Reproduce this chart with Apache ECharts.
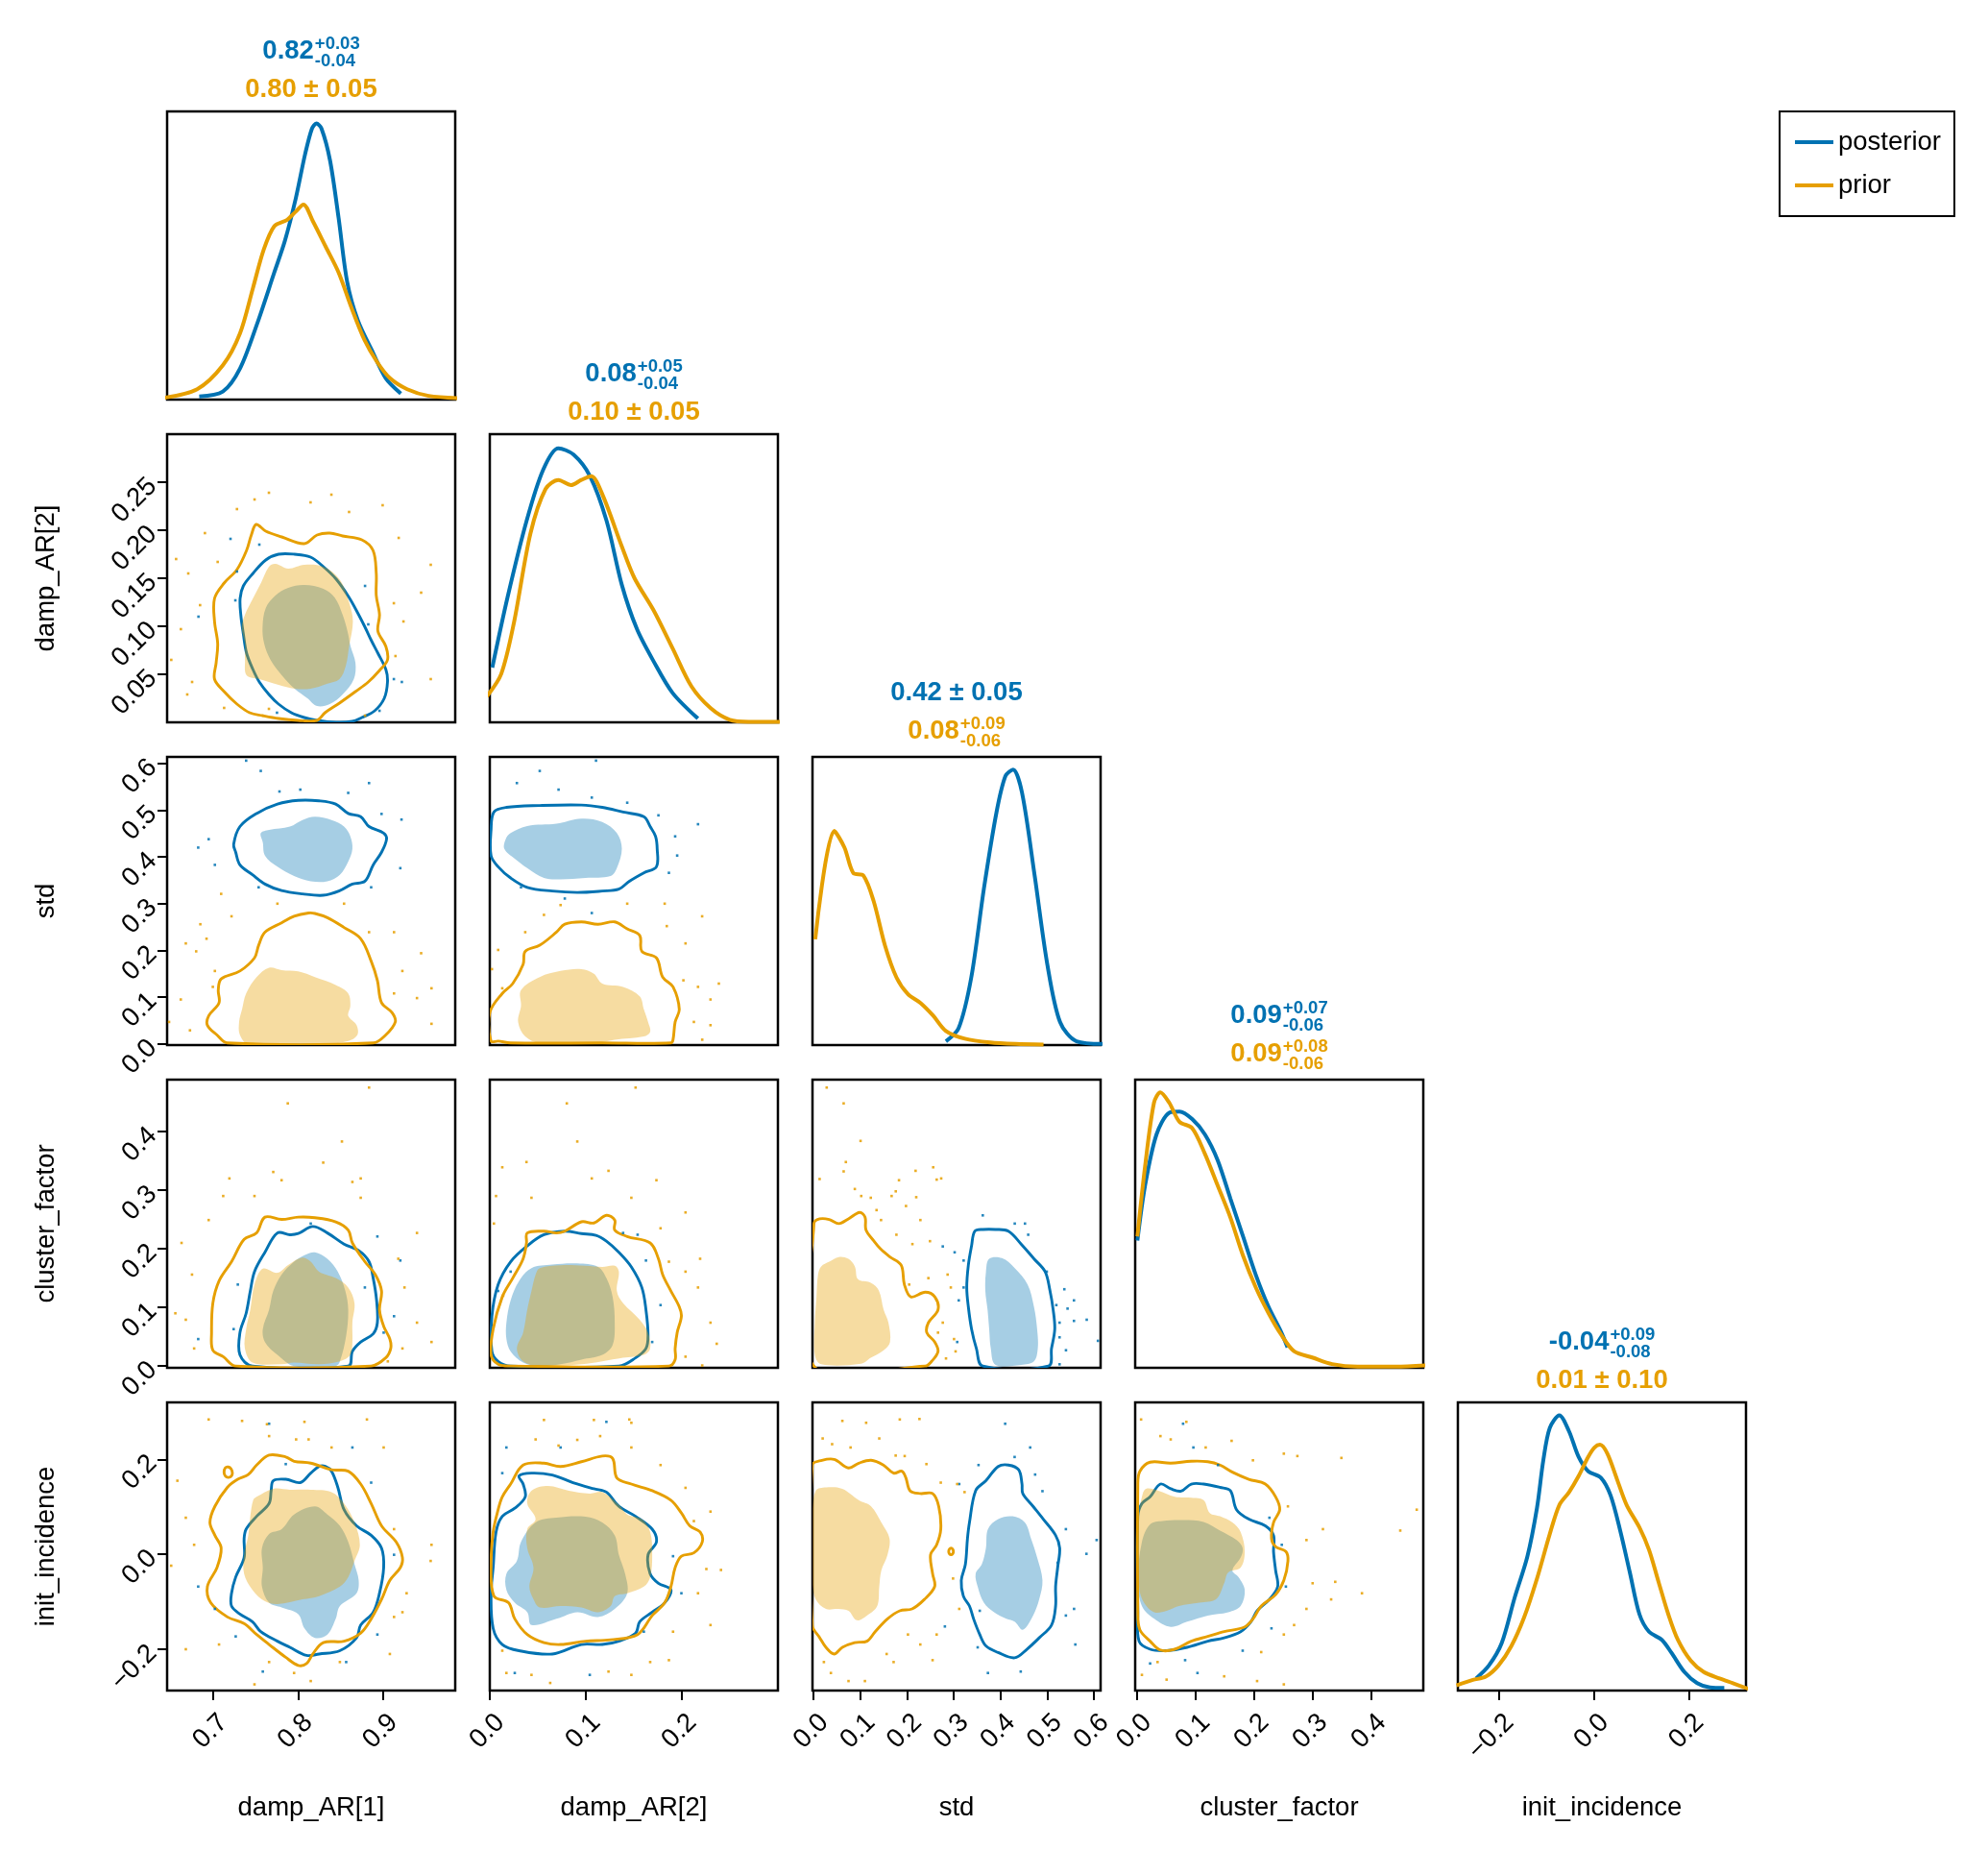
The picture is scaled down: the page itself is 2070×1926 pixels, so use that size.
<!DOCTYPE html>
<html>
<head>
<meta charset="utf-8">
<script src="https://cdn.jsdelivr.net/npm/echarts@6/dist/echarts.min.js"></script>
<style>
  html, body { margin: 0; padding: 0; background: #fff; }
  #chart { width: 2070px; height: 1926px; }
</style>
</head>
<body>
<div id="chart"></div>
<script>
'use strict';

// ---- variables, axis ranges, ticks ----
const varNames = ['damp_AR[1]', 'damp_AR[2]', 'std', 'cluster_factor', 'init_incidence'];
const varRanges = [[0.646, 0.985], [0.0, 0.3], [-0.0025, 0.614], [-0.003, 0.4885], [-0.287, 0.320]];
const xTickValues = [[0.7, 0.8, 0.9], [0.0, 0.1, 0.2], [0.0, 0.1, 0.2, 0.3, 0.4, 0.5, 0.6], [0.0, 0.1, 0.2, 0.3, 0.4], [-0.2, 0.0, 0.2]];
const xTickLabels = [['0.7', '0.8', '0.9'], ['0.0', '0.1', '0.2'], ['0.0', '0.1', '0.2', '0.3', '0.4', '0.5', '0.6'], ['0.0', '0.1', '0.2', '0.3', '0.4'], ['\u22120.2', '0.0', '0.2']];
const yTickValues = [[], [0.05, 0.10, 0.15, 0.20, 0.25], [0.0, 0.1, 0.2, 0.3, 0.4, 0.5, 0.6], [0.0, 0.1, 0.2, 0.3, 0.4], [-0.2, 0.0, 0.2]];
const yTickLabels = [[], ['0.05', '0.10', '0.15', '0.20', '0.25'], ['0.0', '0.1', '0.2', '0.3', '0.4', '0.5', '0.6'], ['0.0', '0.1', '0.2', '0.3', '0.4'], ['\u22120.2', '0.0', '0.2']];

// ---- summary titles above the diagonal (value, +err, -err) ----
const postTitles = [['0.82', '+0.03', '-0.04'], ['0.08', '+0.05', '-0.04'], ['0.42 \u00b1 0.05'], ['0.09', '+0.07', '-0.06'], ['-0.04', '+0.09', '-0.08']];
const priorTitles = [['0.80 \u00b1 0.05'], ['0.10 \u00b1 0.05'], ['0.08', '+0.09', '-0.06'], ['0.09', '+0.08', '-0.06'], ['0.01 \u00b1 0.10']];

// ---- marginal densities (relative height) ----
const postDensity1 = [[0.6838,0.011],[0.7116,0.028],[0.7318,0.108],[0.7519,0.263],[0.7721,0.441],[0.7847,0.552],[0.7973,0.697],[0.8084,0.852],[0.8165,0.941],[0.8216,0.958],[0.8276,0.941],[0.8377,0.830],[0.8478,0.630],[0.8579,0.408],[0.8705,0.274],[0.8882,0.163],[0.9033,0.074],[0.9210,0.021]];
const priorDensity1 = [[0.640,0.005],[0.6813,0.036],[0.7116,0.119],[0.7318,0.230],[0.7469,0.386],[0.7595,0.519],[0.7721,0.602],[0.7873,0.624],[0.7973,0.652],[0.8064,0.677],[0.8175,0.619],[0.8327,0.530],[0.8478,0.441],[0.8629,0.319],[0.8781,0.208],[0.8932,0.130],[0.9083,0.074],[0.9285,0.036],[0.9537,0.013],[0.9900,0.005]];
const postDensity2 = [[0.0026,0.190],[0.0185,0.434],[0.0383,0.699],[0.0555,0.876],[0.0714,0.951],[0.0872,0.929],[0.1044,0.854],[0.1216,0.699],[0.1374,0.478],[0.1533,0.323],[0.1705,0.212],[0.1903,0.102],[0.2167,0.013]];
const priorDensity2 = [[-0.003,0.090],[0.0119,0.168],[0.0251,0.345],[0.0423,0.655],[0.0581,0.810],[0.0714,0.841],[0.0846,0.823],[0.0952,0.841],[0.1057,0.854],[0.1176,0.788],[0.1374,0.611],[0.1507,0.500],[0.1705,0.389],[0.1903,0.257],[0.2101,0.124],[0.2300,0.049],[0.2498,0.009],[0.2696,0.002],[0.3050,0.002]];
const postDensity3 = [[0.2830,0.013],[0.3101,0.058],[0.3373,0.235],[0.3644,0.544],[0.3915,0.810],[0.4105,0.934],[0.4268,0.956],[0.4458,0.876],[0.4729,0.588],[0.5001,0.279],[0.5272,0.080],[0.5625,0.013],[0.6200,0.004]];
const priorDensity3 = [[0.0034,0.367],[0.0441,0.743],[0.0658,0.686],[0.0848,0.597],[0.1066,0.588],[0.1283,0.500],[0.1527,0.345],[0.1771,0.235],[0.2016,0.177],[0.2287,0.146],[0.2558,0.102],[0.2830,0.049],[0.3237,0.022],[0.3780,0.009],[0.4322,0.004],[0.4919,0.002]];
const postDensity4 = [[0.0008,0.442],[0.0139,0.633],[0.0334,0.810],[0.0551,0.885],[0.0725,0.889],[0.0942,0.863],[0.1159,0.810],[0.1376,0.721],[0.1593,0.588],[0.1810,0.456],[0.2027,0.323],[0.2244,0.212],[0.2461,0.124],[0.2569,0.071]];
const priorDensity4 = [[0.0008,0.456],[0.0139,0.699],[0.0291,0.920],[0.0399,0.956],[0.0551,0.920],[0.0725,0.854],[0.0942,0.832],[0.1159,0.743],[0.1376,0.633],[0.1593,0.522],[0.1810,0.389],[0.2027,0.279],[0.2244,0.190],[0.2461,0.115],[0.2678,0.058],[0.3003,0.035],[0.3329,0.013],[0.3763,0.004],[0.4414,0.004],[0.4950,0.009]];
const postDensity5 = [[-0.2486,0.042],[-0.2216,0.087],[-0.1946,0.165],[-0.1676,0.321],[-0.1406,0.465],[-0.1204,0.633],[-0.1069,0.800],[-0.0934,0.911],[-0.0732,0.955],[-0.0529,0.900],[-0.0327,0.811],[-0.0124,0.761],[0.0146,0.738],[0.0348,0.677],[0.0550,0.555],[0.0753,0.410],[0.0955,0.265],[0.1158,0.204],[0.1428,0.176],[0.1630,0.131],[0.1900,0.065],[0.2170,0.026],[0.2440,0.011],[0.2743,0.009]];
const priorDensity5 = [[-0.2900,0.018],[-0.2554,0.037],[-0.2284,0.048],[-0.2014,0.087],[-0.1744,0.154],[-0.1474,0.254],[-0.1204,0.388],[-0.0934,0.543],[-0.0732,0.644],[-0.0529,0.688],[-0.0327,0.744],[-0.0124,0.811],[0.0011,0.844],[0.0125,0.853],[0.0280,0.822],[0.0483,0.733],[0.0685,0.644],[0.0955,0.566],[0.1158,0.488],[0.1360,0.376],[0.1563,0.265],[0.1765,0.176],[0.2035,0.104],[0.2305,0.065],[0.2642,0.042],[0.2912,0.026],[0.3250,0.006]];

// ---- 2D credible regions: core (filled) and edge (outline); samples outside ----
// row damp_AR[2] / col damp_AR[1]
const postCore21 = [[0.8073,0.143],[0.8299,0.139],[0.8431,0.130],[0.8525,0.112],[0.8582,0.095],[0.8619,0.079],[0.8676,0.062],[0.8657,0.045],[0.8525,0.029],[0.8374,0.019],[0.8224,0.017],[0.8111,0.025],[0.7960,0.035],[0.7809,0.049],[0.7677,0.065],[0.7602,0.082],[0.7583,0.099],[0.7621,0.119],[0.7734,0.132],[0.7885,0.140]];
const postEdge21 = [[0.7771,0.175],[0.7960,0.175],[0.8148,0.172],[0.8299,0.162],[0.8450,0.149],[0.8601,0.130],[0.8714,0.112],[0.8789,0.099],[0.8864,0.085],[0.8940,0.072],[0.9034,0.055],[0.9053,0.042],[0.9015,0.025],[0.8902,0.012],[0.8751,0.005],[0.8638,0.001],[0.8450,0.000],[0.8224,0.002],[0.8073,0.005],[0.7922,0.010],[0.7771,0.019],[0.7658,0.029],[0.7545,0.042],[0.7470,0.055],[0.7395,0.072],[0.7357,0.092],[0.7327,0.112],[0.7319,0.129],[0.7357,0.142],[0.7470,0.155],[0.7621,0.169]];
const priorCore21 = [[0.7734,0.165],[0.7885,0.160],[0.8073,0.164],[0.8299,0.162],[0.8488,0.149],[0.8601,0.125],[0.8646,0.105],[0.8601,0.079],[0.8563,0.059],[0.8488,0.045],[0.8337,0.040],[0.8148,0.035],[0.7960,0.035],[0.7771,0.039],[0.7545,0.045],[0.7395,0.049],[0.7376,0.065],[0.7376,0.082],[0.7338,0.099],[0.7376,0.112],[0.7470,0.129],[0.7564,0.145],[0.7658,0.162]];
const priorEdge21 = [[0.7508,0.206],[0.7621,0.199],[0.7809,0.193],[0.8073,0.186],[0.8224,0.195],[0.8374,0.197],[0.8525,0.194],[0.8751,0.190],[0.8883,0.179],[0.8921,0.155],[0.8921,0.132],[0.8959,0.112],[0.8940,0.095],[0.9034,0.079],[0.9053,0.065],[0.8959,0.054],[0.8827,0.042],[0.8676,0.032],[0.8488,0.020],[0.8318,0.010],[0.8224,0.002],[0.7998,0.002],[0.7771,0.004],[0.7583,0.007],[0.7432,0.010],[0.7282,0.019],[0.7131,0.032],[0.7018,0.045],[0.7037,0.062],[0.7055,0.082],[0.7018,0.105],[0.7018,0.129],[0.7131,0.145],[0.7282,0.159],[0.7395,0.179],[0.7451,0.195]];
const postDots21 = [[0.7206,0.191],[0.7545,0.185],[0.7282,0.157],[0.6829,0.110],[0.7263,0.127],[0.8789,0.142],[0.8827,0.102],[0.9128,0.045],[0.9222,0.042],[0.8959,0.012],[0.7753,0.010]];
const priorDots21 = [[0.6566,0.170],[0.6622,0.097],[0.6709,0.155],[0.6848,0.122],[0.6905,0.197],[0.7055,0.167],[0.7282,0.222],[0.7489,0.232],[0.7658,0.239],[0.8148,0.229],[0.8393,0.237],[0.8601,0.219],[0.8996,0.226],[0.9185,0.192],[0.9449,0.135],[0.9562,0.164],[0.9562,0.045],[0.9147,0.069],[0.9241,0.105],[0.9128,0.124],[0.6754,0.042],[0.6697,0.029],[0.7131,0.015],[0.7658,0.014],[0.8789,0.007],[0.6509,0.065]];

// row std / col damp_AR[1]
const postCore31 = [[0.7562,0.451],[0.7660,0.458],[0.7905,0.465],[0.8052,0.479],[0.8199,0.486],[0.8395,0.479],[0.8542,0.465],[0.8616,0.444],[0.8640,0.417],[0.8591,0.390],[0.8493,0.362],[0.8346,0.348],[0.8150,0.348],[0.7954,0.359],[0.7758,0.379],[0.7611,0.403],[0.7586,0.431]];
const postEdge31 = [[0.7243,0.427],[0.7317,0.465],[0.7513,0.493],[0.7758,0.513],[0.8003,0.521],[0.8248,0.520],[0.8444,0.513],[0.8591,0.493],[0.8738,0.486],[0.8836,0.465],[0.9008,0.451],[0.9042,0.438],[0.8983,0.410],[0.8885,0.383],[0.8787,0.348],[0.8640,0.342],[0.8493,0.328],[0.8297,0.318],[0.8052,0.321],[0.7807,0.328],[0.7611,0.342],[0.7464,0.362],[0.7317,0.383],[0.7267,0.410]];
const priorCore31 = [[0.7660,0.163],[0.7807,0.158],[0.8003,0.155],[0.8199,0.143],[0.8444,0.126],[0.8591,0.108],[0.8616,0.081],[0.8591,0.060],[0.8689,0.040],[0.8699,0.019],[0.8591,0.006],[0.8346,0.000],[0.7415,0.000],[0.7317,0.019],[0.7307,0.047],[0.7342,0.074],[0.7390,0.108],[0.7513,0.143]];
const priorEdge31 = [[0.8125,0.280],[0.7954,0.273],[0.7807,0.259],[0.7611,0.239],[0.7537,0.211],[0.7488,0.184],[0.7317,0.156],[0.7096,0.139],[0.7062,0.115],[0.7071,0.088],[0.6949,0.060],[0.6934,0.040],[0.7047,0.019],[0.7169,0.002],[0.8885,0.002],[0.9032,0.019],[0.9145,0.047],[0.9106,0.067],[0.8983,0.088],[0.8934,0.136],[0.8861,0.177],[0.8738,0.225],[0.8542,0.249],[0.8346,0.270],[0.8199,0.279]];
const postDots31 = [[0.7390,0.606],[0.7562,0.584],[0.7782,0.540],[0.8027,0.544],[0.8591,0.537],[0.8836,0.558],[0.8983,0.492],[0.9218,0.480],[0.6826,0.420],[0.6949,0.438],[0.7022,0.383],[0.9204,0.376],[0.8861,0.335],[0.7537,0.335]];
const priorDots31 = [[0.7096,0.321],[0.6851,0.256],[0.6680,0.215],[0.6802,0.198],[0.6924,0.225],[0.7218,0.273],[0.7758,0.300],[0.8542,0.300],[0.8836,0.239],[0.9130,0.239],[0.9228,0.156],[0.9449,0.194],[0.9571,0.119],[0.9400,0.098],[0.9130,0.108],[0.9571,0.043],[0.6621,0.095],[0.6483,0.047],[0.6729,0.029],[0.6998,0.122],[0.7022,0.156]];

// row std / col damp_AR[2]
const postCore32 = [[0.0217,0.451],[0.0390,0.466],[0.0694,0.471],[0.0954,0.482],[0.1171,0.475],[0.1323,0.451],[0.1375,0.417],[0.1323,0.376],[0.1258,0.359],[0.0997,0.355],[0.0737,0.352],[0.0564,0.355],[0.0390,0.376],[0.0260,0.396],[0.0152,0.417],[0.0165,0.438]];
const postEdge32 = [[0.0043,0.496],[0.0173,0.506],[0.0520,0.510],[0.0954,0.511],[0.1171,0.506],[0.1388,0.496],[0.1604,0.486],[0.1670,0.465],[0.1726,0.444],[0.1743,0.417],[0.1735,0.379],[0.1604,0.366],[0.1453,0.348],[0.1344,0.331],[0.1171,0.327],[0.0911,0.324],[0.0650,0.327],[0.0390,0.335],[0.0217,0.355],[0.0087,0.379],[0.0013,0.403],[0.0013,0.458]];
const priorCore32 = [[0.0325,0.115],[0.0520,0.143],[0.0737,0.156],[0.0954,0.160],[0.1084,0.150],[0.1171,0.129],[0.1388,0.122],[0.1561,0.102],[0.1604,0.074],[0.1648,0.047],[0.1670,0.026],[0.1604,0.016],[0.1301,0.009],[0.1084,0.002],[0.0520,0.002],[0.0369,0.016],[0.0295,0.047],[0.0325,0.081]];
const priorEdge32 = [[0.0000,0.067],[0.0130,0.108],[0.0239,0.129],[0.0347,0.170],[0.0369,0.198],[0.0520,0.211],[0.0694,0.239],[0.0781,0.256],[0.0954,0.261],[0.1127,0.256],[0.1301,0.261],[0.1431,0.246],[0.1561,0.232],[0.1583,0.198],[0.1735,0.184],[0.1800,0.143],[0.1908,0.122],[0.1973,0.074],[0.1930,0.047],[0.1908,0.009],[0.1886,0.002],[0.1171,0.002],[0.0217,0.002],[0.0087,0.006],[0.0013,0.006]];
const postDots32 = [[0.1106,0.606],[0.0520,0.584],[0.0282,0.558],[0.0716,0.544],[0.1062,0.527],[0.1431,0.516],[0.1756,0.489],[0.2168,0.470],[0.1930,0.444],[0.1951,0.403],[0.1865,0.366],[0.0325,0.335],[0.0781,0.311],[0.1062,0.280]];
const priorDots32 = [[0.0087,0.201],[0.0369,0.239],[0.0564,0.276],[0.0737,0.297],[0.1431,0.300],[0.1821,0.300],[0.1843,0.252],[0.2038,0.215],[0.2211,0.273],[0.2016,0.136],[0.2168,0.122],[0.2298,0.095],[0.2385,0.129],[0.2125,0.047],[0.2298,0.040],[0.2212,0.009],[0.0130,0.119],[0.0022,0.160]];

// row cluster_factor / col damp_AR[1]
const postCore41 = [[0.8199,0.194],[0.8346,0.183],[0.8469,0.161],[0.8557,0.128],[0.8591,0.096],[0.8567,0.052],[0.8493,0.008],[0.8444,0.000],[0.7954,0.000],[0.7758,0.019],[0.7611,0.041],[0.7586,0.063],[0.7660,0.096],[0.7709,0.128],[0.7807,0.156],[0.7954,0.178],[0.8076,0.189]];
const postEdge41 = [[0.7758,0.227],[0.7905,0.224],[0.8003,0.226],[0.8174,0.238],[0.8346,0.227],[0.8542,0.208],[0.8714,0.197],[0.8836,0.178],[0.8885,0.150],[0.8925,0.112],[0.8934,0.074],[0.8885,0.055],[0.8738,0.041],[0.8640,0.025],[0.8591,0.000],[0.7464,0.000],[0.7317,0.019],[0.7317,0.057],[0.7390,0.090],[0.7439,0.128],[0.7488,0.161],[0.7611,0.194]];
const priorCore41 = [[0.8052,0.185],[0.8150,0.178],[0.8248,0.161],[0.8444,0.150],[0.8591,0.134],[0.8665,0.107],[0.8640,0.074],[0.8640,0.041],[0.8616,0.019],[0.8493,0.008],[0.8248,0.003],[0.7954,0.006],[0.7807,0.003],[0.7464,0.006],[0.7375,0.030],[0.7390,0.063],[0.7439,0.096],[0.7488,0.139],[0.7586,0.166],[0.7758,0.159],[0.7880,0.172]];
const priorEdge41 = [[0.7611,0.254],[0.7807,0.250],[0.8003,0.254],[0.8199,0.253],[0.8444,0.246],[0.8591,0.232],[0.8640,0.210],[0.8787,0.178],[0.8910,0.156],[0.8983,0.128],[0.8959,0.096],[0.9008,0.068],[0.9081,0.046],[0.9091,0.030],[0.9032,0.014],[0.8861,0.000],[0.7267,0.000],[0.7120,0.016],[0.6998,0.027],[0.6983,0.057],[0.6998,0.107],[0.7071,0.145],[0.7218,0.178],[0.7366,0.216],[0.7513,0.227]];
const postDots41 = [[0.8150,0.243],[0.8934,0.221],[0.9204,0.180],[0.9130,0.085],[0.9008,0.057],[0.7243,0.063],[0.6826,0.046],[0.7292,0.139],[0.8787,0.134]];
const priorDots41 = [[0.7880,0.448],[0.8836,0.475],[0.8517,0.383],[0.8297,0.347],[0.7709,0.331],[0.7193,0.320],[0.7120,0.290],[0.7488,0.290],[0.7807,0.317],[0.8738,0.320],[0.8738,0.287],[0.8640,0.314],[0.6949,0.249],[0.6630,0.210],[0.6753,0.156],[0.6557,0.090],[0.6680,0.079],[0.6778,0.030],[0.9400,0.227],[0.9180,0.183],[0.9253,0.134],[0.9400,0.074],[0.9571,0.041],[0.9229,0.030],[0.9057,0.008]];

// row cluster_factor / col damp_AR[2]
const postCore42 = [[0.0173,0.074],[0.0217,0.112],[0.0304,0.145],[0.0434,0.167],[0.0650,0.173],[0.0911,0.175],[0.1127,0.169],[0.1214,0.150],[0.1279,0.118],[0.1301,0.074],[0.1279,0.036],[0.1171,0.019],[0.0954,0.011],[0.0737,0.003],[0.0520,0.000],[0.0347,0.006],[0.0217,0.025],[0.0173,0.046]];
const postEdge42 = [[0.0022,0.085],[0.0087,0.139],[0.0217,0.178],[0.0390,0.205],[0.0564,0.224],[0.0781,0.230],[0.0954,0.226],[0.1106,0.223],[0.1214,0.213],[0.1344,0.194],[0.1474,0.169],[0.1583,0.134],[0.1626,0.096],[0.1648,0.052],[0.1626,0.030],[0.1518,0.014],[0.1344,0.000],[0.0217,0.000],[0.0087,0.008],[0.0022,0.025]];
const priorCore42 = [[0.0520,0.167],[0.0737,0.172],[0.0997,0.171],[0.1171,0.169],[0.1301,0.171],[0.1344,0.161],[0.1323,0.128],[0.1388,0.107],[0.1561,0.079],[0.1648,0.057],[0.1670,0.030],[0.1604,0.019],[0.1388,0.014],[0.1171,0.008],[0.0954,0.003],[0.0520,0.000],[0.0347,0.008],[0.0282,0.030],[0.0347,0.057],[0.0390,0.096],[0.0434,0.128],[0.0477,0.156]];
const priorEdge42 = [[0.0390,0.227],[0.0564,0.230],[0.0694,0.227],[0.0781,0.230],[0.0954,0.246],[0.1084,0.244],[0.1214,0.257],[0.1301,0.249],[0.1301,0.232],[0.1431,0.221],[0.1670,0.210],[0.1756,0.183],[0.1800,0.156],[0.1886,0.128],[0.1973,0.101],[0.1995,0.085],[0.1951,0.057],[0.1930,0.030],[0.1930,0.011],[0.1865,0.000],[0.0217,0.000],[0.0087,0.003],[0.0013,0.019],[0.0035,0.063],[0.0130,0.118],[0.0239,0.150],[0.0347,0.183],[0.0382,0.210]];
const postDots42 = [[0.1388,0.227],[0.1539,0.224],[0.1626,0.180],[0.1778,0.104],[0.1691,0.041],[0.0217,0.161],[0.0087,0.128]];
const priorDots42 = [[0.0802,0.448],[0.1518,0.475],[0.0911,0.383],[0.0382,0.348],[0.0130,0.339],[0.1236,0.333],[0.1735,0.317],[0.1062,0.320],[0.0434,0.287],[0.0065,0.290],[0.1474,0.287],[0.2038,0.262],[0.1778,0.235],[0.1865,0.178],[0.2038,0.161],[0.2190,0.183],[0.2168,0.134],[0.2298,0.074],[0.2363,0.038],[0.2212,0.001],[0.2038,0.016],[0.0043,0.243],[0.0139,0.120]];

// row cluster_factor / col std
const postCore43 = [[0.3756,0.183],[0.4030,0.184],[0.4303,0.167],[0.4577,0.139],[0.4714,0.101],[0.4782,0.063],[0.4796,0.030],[0.4714,0.008],[0.4440,0.002],[0.3892,0.002],[0.3790,0.030],[0.3756,0.063],[0.3721,0.096],[0.3673,0.129],[0.3687,0.161]];
const postEdge43 = [[0.3448,0.230],[0.3620,0.233],[0.3892,0.233],[0.4166,0.230],[0.4440,0.208],[0.4714,0.183],[0.4953,0.161],[0.5056,0.129],[0.5125,0.096],[0.5159,0.063],[0.5090,0.030],[0.5022,0.000],[0.3620,0.000],[0.3482,0.030],[0.3379,0.063],[0.3310,0.101],[0.3276,0.134],[0.3310,0.172],[0.3379,0.205]];
const priorCore43 = [[0.0162,0.170],[0.0333,0.178],[0.0539,0.186],[0.0744,0.183],[0.0881,0.170],[0.0949,0.148],[0.1223,0.142],[0.1394,0.129],[0.1497,0.096],[0.1600,0.074],[0.1634,0.041],[0.1497,0.027],[0.1223,0.014],[0.1018,0.004],[0.0162,0.003],[0.0025,0.019],[0.0025,0.074],[0.0060,0.118],[0.0094,0.156]];
const priorEdge43 = [[0.0005,0.243],[0.0128,0.251],[0.0333,0.250],[0.0539,0.243],[0.0744,0.251],[0.0984,0.262],[0.1100,0.254],[0.1120,0.232],[0.1292,0.213],[0.1428,0.200],[0.1634,0.186],[0.1873,0.172],[0.1942,0.139],[0.2079,0.118],[0.2387,0.126],[0.2592,0.118],[0.2661,0.096],[0.2455,0.074],[0.2421,0.057],[0.2592,0.041],[0.2661,0.025],[0.2524,0.008],[0.2387,0.000],[0.0005,0.000]];
const postDots43 = [[0.3619,0.257],[0.4303,0.243],[0.4522,0.243],[0.4591,0.224],[0.2763,0.204],[0.3017,0.194],[0.3209,0.180],[0.4988,0.161],[0.5364,0.131],[0.5570,0.112],[0.5193,0.104],[0.5262,0.074],[0.5570,0.077],[0.5843,0.079],[0.5433,0.098],[0.5262,0.049],[0.5399,0.027],[0.6083,0.043],[0.5262,0.003],[0.3105,0.112],[0.3209,0.134],[0.3072,0.041]];
const priorDots43 = [[0.0279,0.475],[0.0642,0.448],[0.1004,0.384],[0.0689,0.348],[0.0642,0.332],[0.0128,0.319],[0.0881,0.302],[0.1018,0.290],[0.1223,0.287],[0.1668,0.290],[0.1757,0.298],[0.1826,0.317],[0.2181,0.333],[0.2558,0.339],[0.2633,0.318],[0.2729,0.320],[0.1976,0.273],[0.2195,0.288],[0.1771,0.224],[0.2113,0.208],[0.2489,0.213],[0.2284,0.249],[0.2455,0.150],[0.2044,0.139],[0.2866,0.156],[0.2935,0.134],[0.2763,0.074],[0.2661,0.057],[0.3004,0.046],[0.3037,0.025],[0.2832,0.013],[0.1346,0.266],[0.1442,0.249]];

// row init_incidence / col damp_AR[1]
const postCore51 = [[0.7807,0.053],[0.7954,0.084],[0.8199,0.101],[0.8346,0.084],[0.8493,0.060],[0.8591,0.026],[0.8665,-0.021],[0.8714,-0.055],[0.8689,-0.082],[0.8493,-0.109],[0.8444,-0.136],[0.8346,-0.169],[0.8199,-0.176],[0.8076,-0.156],[0.8003,-0.126],[0.7807,-0.112],[0.7660,-0.102],[0.7576,-0.068],[0.7586,-0.028],[0.7576,0.013],[0.7660,0.043]];
const postEdge51 = [[0.7709,0.155],[0.7856,0.158],[0.8027,0.151],[0.8150,0.171],[0.8248,0.185],[0.8322,0.185],[0.8395,0.175],[0.8469,0.141],[0.8542,0.094],[0.8689,0.060],[0.8861,0.040],[0.8983,0.013],[0.9008,-0.028],[0.8959,-0.082],[0.8885,-0.122],[0.8738,-0.149],[0.8689,-0.176],[0.8493,-0.203],[0.8248,-0.210],[0.8101,-0.213],[0.7905,-0.196],[0.7758,-0.183],[0.7562,-0.163],[0.7464,-0.142],[0.7317,-0.126],[0.7218,-0.109],[0.7218,-0.082],[0.7267,-0.048],[0.7366,-0.007],[0.7366,0.033],[0.7390,0.053],[0.7513,0.080],[0.7660,0.107],[0.7684,0.134]];
const priorCore51 = [[0.7513,0.121],[0.7709,0.138],[0.7905,0.136],[0.8150,0.136],[0.8395,0.131],[0.8542,0.107],[0.8665,0.067],[0.8728,0.020],[0.8665,-0.014],[0.8591,-0.048],[0.8493,-0.068],[0.8248,-0.088],[0.8052,-0.095],[0.7758,-0.105],[0.7611,-0.099],[0.7464,-0.075],[0.7366,-0.041],[0.7366,-0.001],[0.7415,0.040],[0.7439,0.080],[0.7473,0.114]];
const priorEdge51 = [[0.7513,0.188],[0.7660,0.209],[0.7856,0.205],[0.7954,0.196],[0.8150,0.192],[0.8395,0.178],[0.8591,0.175],[0.8738,0.148],[0.8861,0.107],[0.8983,0.060],[0.9155,0.026],[0.9229,-0.007],[0.9204,-0.028],[0.9081,-0.055],[0.8983,-0.095],[0.8861,-0.136],[0.8738,-0.166],[0.8542,-0.183],[0.8297,-0.186],[0.8174,-0.210],[0.8101,-0.230],[0.8003,-0.234],[0.7856,-0.217],[0.7660,-0.190],[0.7513,-0.169],[0.7366,-0.146],[0.7169,-0.132],[0.6973,-0.102],[0.6934,-0.068],[0.7047,-0.028],[0.7096,0.013],[0.7022,0.040],[0.6964,0.067],[0.7022,0.101],[0.7169,0.141],[0.7292,0.158],[0.7415,0.168]];
const priorIsle51 = [[0.7130,0.173],[0.7145,0.182],[0.7179,0.184],[0.7213,0.180],[0.7228,0.171],[0.7213,0.164],[0.7179,0.162],[0.7145,0.165]];
const postDots51 = [[0.7660,0.275],[0.8640,0.225],[0.7856,0.190],[0.8861,0.151],[0.9130,-0.001],[0.6826,-0.068],[0.7022,-0.115],[0.7267,-0.173],[0.8567,-0.227],[0.7586,-0.247],[0.8934,-0.169]];
const priorDots51 = [[0.6949,0.284],[0.7342,0.281],[0.7635,0.274],[0.8076,0.279],[0.8811,0.284],[0.7978,0.242],[0.7660,0.249],[0.8125,0.242],[0.8395,0.225],[0.9008,0.225],[0.6581,0.155],[0.6680,0.077],[0.6778,0.020],[0.6508,-0.024],[0.9571,0.020],[0.9561,-0.014],[0.9130,0.053],[0.9278,-0.082],[0.9229,-0.122],[0.9130,-0.132],[0.9081,-0.210],[0.8493,-0.227],[0.8150,-0.267],[0.7954,-0.250],[0.7488,-0.274],[0.7660,-0.227],[0.7071,-0.190],[0.6680,-0.200]];

// row init_incidence / col damp_AR[2]
const postCore52 = [[0.0477,0.067],[0.0694,0.077],[0.0997,0.079],[0.1171,0.067],[0.1301,0.040],[0.1344,-0.001],[0.1409,-0.041],[0.1431,-0.082],[0.1301,-0.115],[0.1127,-0.132],[0.0911,-0.122],[0.0694,-0.136],[0.0434,-0.149],[0.0390,-0.122],[0.0260,-0.102],[0.0173,-0.075],[0.0173,-0.041],[0.0282,-0.014],[0.0325,0.026]];
const postEdge52 = [[0.0304,0.165],[0.0434,0.171],[0.0650,0.167],[0.0867,0.151],[0.1084,0.138],[0.1214,0.131],[0.1344,0.101],[0.1518,0.080],[0.1691,0.053],[0.1735,0.026],[0.1648,-0.001],[0.1670,-0.041],[0.1756,-0.061],[0.1886,-0.075],[0.1821,-0.102],[0.1691,-0.122],[0.1561,-0.142],[0.1518,-0.166],[0.1344,-0.183],[0.1171,-0.190],[0.0954,-0.190],[0.0650,-0.210],[0.0304,-0.203],[0.0130,-0.190],[0.0035,-0.156],[0.0013,-0.082],[0.0035,-0.028],[0.0065,0.047],[0.0130,0.080],[0.0260,0.097],[0.0369,0.121],[0.0347,0.148]];
const priorCore52 = [[0.0434,0.134],[0.0607,0.144],[0.0824,0.134],[0.1041,0.128],[0.1171,0.131],[0.1344,0.104],[0.1431,0.084],[0.1583,0.074],[0.1670,0.047],[0.1691,-0.001],[0.1670,-0.048],[0.1604,-0.068],[0.1431,-0.082],[0.1301,-0.088],[0.1258,-0.109],[0.1127,-0.122],[0.0954,-0.112],[0.0737,-0.109],[0.0520,-0.112],[0.0455,-0.095],[0.0412,-0.068],[0.0455,-0.028],[0.0390,0.013],[0.0390,0.053],[0.0477,0.074],[0.0390,0.107]];
const priorEdge52 = [[0.0217,0.148],[0.0347,0.188],[0.0564,0.192],[0.0737,0.185],[0.0954,0.195],[0.1171,0.207],[0.1279,0.202],[0.1323,0.161],[0.1474,0.148],[0.1691,0.134],[0.1886,0.114],[0.1995,0.087],[0.2082,0.060],[0.2190,0.047],[0.2212,0.026],[0.2125,0.003],[0.1995,-0.004],[0.1930,-0.028],[0.1886,-0.068],[0.1821,-0.102],[0.1691,-0.129],[0.1539,-0.169],[0.1258,-0.180],[0.0997,-0.183],[0.0737,-0.190],[0.0564,-0.186],[0.0390,-0.169],[0.0260,-0.136],[0.0195,-0.102],[0.0043,-0.088],[0.0013,-0.021],[0.0035,0.047],[0.0087,0.094],[0.0130,0.121]];
const postDots52 = [[0.0173,0.225],[0.0130,0.171],[0.0737,0.225],[0.1214,0.279],[0.1908,-0.004],[0.1995,-0.082],[0.1604,-0.163],[0.1041,-0.254],[0.0260,-0.250]];
const priorDots52 = [[0.0564,0.283],[0.1084,0.283],[0.1453,0.284],[0.1474,0.277],[0.0477,0.242],[0.0911,0.241],[0.1149,0.249],[0.0716,0.229],[0.1474,0.225],[0.1778,0.188],[0.2038,0.140],[0.2298,0.090],[0.2125,0.070],[0.2255,-0.031],[0.2407,-0.033],[0.2168,-0.082],[0.2298,-0.149],[0.1908,-0.163],[0.1865,-0.223],[0.1670,-0.227],[0.1474,-0.254],[0.1236,-0.247],[0.0434,-0.254],[0.0629,-0.271],[0.0130,-0.203],[0.0173,-0.250]];

// row init_incidence / col std
const postCore53 = [[0.3949,0.074],[0.4256,0.080],[0.4519,0.067],[0.4651,0.033],[0.4782,-0.007],[0.4896,-0.055],[0.4826,-0.095],[0.4695,-0.129],[0.4475,-0.159],[0.4300,-0.142],[0.4124,-0.136],[0.3861,-0.122],[0.3642,-0.102],[0.3510,-0.068],[0.3466,-0.041],[0.3598,-0.021],[0.3686,0.013],[0.3729,0.053]];
const postEdge53 = [[0.3949,0.185],[0.4168,0.188],[0.4387,0.178],[0.4458,0.148],[0.4475,0.128],[0.4695,0.101],[0.4914,0.074],[0.5177,0.040],[0.5265,0.013],[0.5221,-0.028],[0.5177,-0.068],[0.5177,-0.109],[0.5090,-0.149],[0.4826,-0.176],[0.4563,-0.200],[0.4300,-0.218],[0.3949,-0.207],[0.3686,-0.193],[0.3554,-0.169],[0.3422,-0.136],[0.3334,-0.109],[0.3203,-0.088],[0.3159,-0.055],[0.3247,-0.021],[0.3291,0.033],[0.3334,0.067],[0.3466,0.134],[0.3686,0.155]];
const priorCore53 = [[0.0044,0.134],[0.0263,0.141],[0.0614,0.138],[0.0965,0.114],[0.1229,0.101],[0.1448,0.067],[0.1623,0.033],[0.1580,-0.001],[0.1448,-0.034],[0.1404,-0.068],[0.1360,-0.109],[0.1141,-0.129],[0.0921,-0.139],[0.0746,-0.119],[0.0527,-0.115],[0.0263,-0.115],[0.0044,-0.095],[-0.003,-0.055],[-0.003,0.080]];
const priorEdge53 = [[-0.003,0.188],[0.0176,0.198],[0.0439,0.200],[0.0746,0.182],[0.0965,0.192],[0.1229,0.198],[0.1492,0.188],[0.1711,0.171],[0.1887,0.175],[0.1974,0.161],[0.2062,0.134],[0.2282,0.128],[0.2545,0.128],[0.2676,0.101],[0.2720,0.053],[0.2632,0.020],[0.2501,-0.001],[0.2545,-0.041],[0.2589,-0.068],[0.2369,-0.095],[0.2106,-0.115],[0.1843,-0.119],[0.1580,-0.136],[0.1316,-0.163],[0.1141,-0.183],[0.0877,-0.186],[0.0614,-0.196],[0.0439,-0.210],[0.0263,-0.196],[0.0132,-0.176],[-0.003,-0.149]];
const priorIsle53 = [[0.2890,0.006],[0.2905,0.011],[0.2940,0.013],[0.2975,0.011],[0.2990,0.006],[0.2975,0.001],[0.2940,-0.001],[0.2905,0.001]];
const postDots53 = [[0.4098,0.275],[0.4633,0.225],[0.4300,0.205],[0.3528,0.188],[0.4739,0.168],[0.4896,0.133],[0.3115,0.148],[0.5397,0.053],[0.5837,0.001],[0.6055,0.030],[0.5221,-0.018],[0.5572,-0.115],[0.5397,-0.129],[0.5599,-0.190],[0.4431,-0.247],[0.3729,-0.250],[0.3510,-0.196],[0.2808,-0.152],[0.3554,-0.119]];
const priorDots53 = [[0.0193,0.244],[0.0395,0.232],[0.0614,0.281],[0.0790,0.225],[0.1123,0.277],[0.1404,0.244],[0.1755,0.208],[0.1843,0.284],[0.2264,0.285],[0.1948,0.207],[0.2413,0.190],[0.2720,0.151],[0.3071,0.148],[0.3229,0.131],[0.2983,-0.051],[0.3115,-0.115],[0.2632,-0.169],[0.2545,-0.223],[0.2282,-0.190],[0.2018,-0.169],[0.1562,-0.210],[0.1097,-0.267],[0.0746,-0.267],[0.0369,-0.250],[0.0219,-0.227],[0.1711,-0.227]];

// row init_incidence / col cluster_factor
const postCore54 = [[0.0225,0.063],[0.0436,0.070],[0.0787,0.072],[0.1137,0.068],[0.1418,0.050],[0.1699,0.030],[0.1804,0.013],[0.1769,-0.007],[0.1629,-0.034],[0.1734,-0.048],[0.1839,-0.075],[0.1769,-0.109],[0.1559,-0.122],[0.1208,-0.129],[0.0857,-0.142],[0.0576,-0.153],[0.0296,-0.136],[0.0085,-0.109],[0.0015,-0.055],[0.0085,0.026]];
const postEdge54 = [[0.0085,0.107],[0.0225,0.121],[0.0401,0.148],[0.0576,0.138],[0.0752,0.133],[0.0927,0.148],[0.1137,0.148],[0.1418,0.141],[0.1594,0.134],[0.1699,0.094],[0.1909,0.074],[0.2190,0.060],[0.2330,0.040],[0.2330,0.006],[0.2366,-0.034],[0.2401,-0.068],[0.2261,-0.095],[0.2050,-0.119],[0.1945,-0.142],[0.1769,-0.163],[0.1488,-0.176],[0.1208,-0.183],[0.0857,-0.196],[0.0506,-0.203],[0.0225,-0.200],[0.0036,-0.183],[0.0015,-0.122],[0.0015,0.080]];
const priorCore54 = [[0.0155,0.138],[0.0366,0.134],[0.0646,0.121],[0.0927,0.119],[0.1137,0.114],[0.1243,0.087],[0.1418,0.080],[0.1629,0.067],[0.1769,0.047],[0.1839,0.006],[0.1769,-0.028],[0.1559,-0.038],[0.1488,-0.061],[0.1348,-0.095],[0.1067,-0.102],[0.0716,-0.109],[0.0506,-0.119],[0.0296,-0.122],[0.0120,-0.102],[0.0036,-0.068],[0.0036,0.080],[0.0085,0.121]];
const priorEdge54 = [[0.0050,0.175],[0.0225,0.194],[0.0576,0.192],[0.0927,0.196],[0.1208,0.195],[0.1418,0.188],[0.1629,0.173],[0.1909,0.158],[0.2190,0.148],[0.2366,0.121],[0.2436,0.094],[0.2330,0.067],[0.2296,0.033],[0.2366,0.016],[0.2541,0.006],[0.2576,-0.014],[0.2506,-0.055],[0.2366,-0.085],[0.2120,-0.109],[0.1980,-0.136],[0.1839,-0.153],[0.1488,-0.163],[0.1208,-0.173],[0.0927,-0.183],[0.0646,-0.200],[0.0401,-0.202],[0.0225,-0.183],[0.0050,-0.159],[0.0015,-0.122],[0.0015,0.148]];
const postDots54 = [[0.0787,0.275],[0.0963,0.225],[0.1384,0.188],[0.2260,0.077],[0.2471,0.020],[0.2541,-0.068],[0.2295,-0.156],[0.1804,-0.203],[0.1033,-0.250],[0.0225,-0.230],[0.0822,-0.223]];
const priorDots54 = [[0.0071,0.284],[0.0843,0.279],[0.0401,0.249],[0.0576,0.242],[0.1173,0.225],[0.1615,0.239],[0.2506,0.212],[0.2737,0.207],[0.3488,0.203],[0.1979,0.198],[0.2576,0.101],[0.3173,0.053],[0.2892,0.030],[0.4492,0.050],[0.4773,0.094],[0.2997,-0.061],[0.3383,-0.058],[0.3313,-0.095],[0.3839,-0.082],[0.2892,-0.115],[0.2681,-0.149],[0.2506,-0.169],[0.2120,-0.206],[0.2050,-0.267],[0.2506,-0.274],[0.1488,-0.257],[0.0506,-0.264],[0.0085,-0.254],[0.0352,-0.227]];

// ---- layout & style ----
const BLUE = '#0072B2';
const ORANGE = '#E69F00';
const BLUE_FILL = 'rgba(0,114,178,0.35)';
const ORANGE_FILL = 'rgba(230,159,0,0.37)';
const FONT = "'Liberation Sans', Arial, Helvetica, sans-serif";
const FS = 27.5;       // tick / label size
const FS_SMALL = 18.5; // super/subscript size
const colLeft = [174, 510, 846, 1182, 1518];
const rowTop = [116, 452, 788, 1124, 1460];
const SIZE = 300;

const postDensities = [postDensity1, postDensity2, postDensity3, postDensity4, postDensity5];
const priorDensities = [priorDensity1, priorDensity2, priorDensity3, priorDensity4, priorDensity5];

const pairPanels = [
    { row: 1, col: 0, post: [postCore21, postEdge21, postDots21], prior: [priorCore21, priorEdge21, priorDots21], isles: [] },
    { row: 2, col: 0, post: [postCore31, postEdge31, postDots31], prior: [priorCore31, priorEdge31, priorDots31], isles: [] },
    { row: 2, col: 1, post: [postCore32, postEdge32, postDots32], prior: [priorCore32, priorEdge32, priorDots32], isles: [] },
    { row: 3, col: 0, post: [postCore41, postEdge41, postDots41], prior: [priorCore41, priorEdge41, priorDots41], isles: [] },
    { row: 3, col: 1, post: [postCore42, postEdge42, postDots42], prior: [priorCore42, priorEdge42, priorDots42], isles: [] },
    { row: 3, col: 2, post: [postCore43, postEdge43, postDots43], prior: [priorCore43, priorEdge43, priorDots43], isles: [] },
    { row: 4, col: 0, post: [postCore51, postEdge51, postDots51], prior: [priorCore51, priorEdge51, priorDots51], isles: [priorIsle51] },
    { row: 4, col: 1, post: [postCore52, postEdge52, postDots52], prior: [priorCore52, priorEdge52, priorDots52], isles: [] },
    { row: 4, col: 2, post: [postCore53, postEdge53, postDots53], prior: [priorCore53, priorEdge53, priorDots53], isles: [priorIsle53] },
    { row: 4, col: 3, post: [postCore54, postEdge54, postDots54], prior: [priorCore54, priorEdge54, priorDots54], isles: [] }
];

const grids = [], xAxes = [], yAxes = [], series = [];

function labelFormatter(values, labels) {
    return (v) => {
        let best = 0;
        values.forEach((t, i) => { if (Math.abs(t - v) < Math.abs(values[best] - v)) best = i; });
        return labels[best];
    };
}

function addPanel(row, col) {
    const g = grids.length;
    grids.push({
        left: colLeft[col], top: rowTop[row], width: SIZE, height: SIZE,
        show: true, borderColor: '#000', borderWidth: 2.5, containLabel: false, outerBoundsMode: 'none'
    });
    const bottom = row === 4;
    const left = col === 0 && row > 0;
    xAxes.push({
        type: 'value', gridIndex: g, min: varRanges[col][0], max: varRanges[col][1],
        axisLine: { show: false, onZero: false }, splitLine: { show: false },
        axisTick: { show: bottom, customValues: xTickValues[col], length: 10, lineStyle: { color: '#000', width: 2 } },
        axisLabel: {
            show: bottom, customValues: xTickValues[col], rotate: 45, margin: 18,
            verticalAlign: 'top', lineHeight: 31,
            fontSize: FS, color: '#000', fontFamily: FONT,
            formatter: labelFormatter(xTickValues[col], xTickLabels[col])
        },
        name: bottom ? varNames[col] : '', nameLocation: 'middle', nameGap: 108, nameMoveOverlap: false,
        nameTextStyle: { fontSize: FS, color: '#000', fontFamily: FONT }
    });
    const diag = row === col;
    yAxes.push({
        type: 'value', gridIndex: g,
        min: diag ? 0 : varRanges[row][0], max: diag ? 1 : varRanges[row][1],
        axisLine: { show: false, onZero: false }, splitLine: { show: false },
        axisTick: { show: left, customValues: yTickValues[row], length: 10, lineStyle: { color: '#000', width: 2 } },
        axisLabel: {
            show: left, customValues: yTickValues[row], rotate: 45, margin: 15,
            fontSize: FS, color: '#000', fontFamily: FONT,
            formatter: labelFormatter(yTickValues[row], yTickLabels[row])
        },
        name: left ? varNames[row] : '', nameLocation: 'middle', nameGap: 112, nameRotate: 90, nameMoveOverlap: false,
        nameTextStyle: { fontSize: FS, color: '#000', fontFamily: FONT }
    });
    return g;
}

function polygonSeries(g, pts, style) {
    return {
        type: 'custom', name: 'region', xAxisIndex: g, yAxisIndex: g, clip: true, silent: true,
        data: [pts[0]],
        renderItem: (params, api) => ({
            type: 'polygon',
            shape: { points: pts.map(p => api.coord(p)), smooth: 0.35 },
            style: style
        })
    };
}

function dotSeries(g, pts, color) {
    return {
        type: 'scatter', name: 'samples', xAxisIndex: g, yAxisIndex: g, data: pts, silent: true,
        symbol: 'rect', symbolSize: 2.6, itemStyle: { color: color, opacity: 0.85 }
    };
}

// diagonal panels: marginal densities
for (let i = 0; i < 5; i++) {
    const g = addPanel(i, i);
    series.push({
        type: 'line', name: 'posterior', xAxisIndex: g, yAxisIndex: g, data: postDensities[i],
        showSymbol: false, smooth: 0.3, lineStyle: { color: BLUE, width: 4 }, itemStyle: { color: BLUE }
    });
    series.push({
        type: 'line', name: 'prior', xAxisIndex: g, yAxisIndex: g, data: priorDensities[i],
        showSymbol: false, smooth: 0.3, lineStyle: { color: ORANGE, width: 4 }, itemStyle: { color: ORANGE }
    });
}

// lower triangle: samples and credible regions
pairPanels.forEach(p => {
    const g = addPanel(p.row, p.col);
    series.push(dotSeries(g, p.post[2], BLUE));
    series.push(dotSeries(g, p.prior[2], ORANGE));
    series.push(polygonSeries(g, p.post[0], { fill: BLUE_FILL, stroke: 'none' }));
    series.push(polygonSeries(g, p.post[1], { fill: 'none', stroke: BLUE, lineWidth: 2.9 }));
    series.push(polygonSeries(g, p.prior[0], { fill: ORANGE_FILL, stroke: 'none' }));
    series.push(polygonSeries(g, p.prior[1], { fill: 'none', stroke: ORANGE, lineWidth: 2.9 }));
    p.isles.forEach(isle => series.push(polygonSeries(g, isle, { fill: 'none', stroke: ORANGE, lineWidth: 2.9 })));
});

// titles above the diagonal
const measureCtx = document.createElement('canvas').getContext('2d');
function textWidth(str, size) {
    measureCtx.font = `bold ${size}px ${FONT}`;
    return measureCtx.measureText(str).width;
}
const graphics = [];
function pushText(text, x, y, color, size, align) {
    graphics.push({
        type: 'text', x: x, y: y, silent: true, z: 100,
        style: { text: text, fill: color, fontSize: size, fontWeight: 'bold', fontFamily: FONT, textAlign: align, textVerticalAlign: 'middle', verticalAlign: 'middle' }
    });
}
function addTitle(parts, color, cx, cy) {
    if (parts.length === 1) {
        pushText(parts[0], cx, cy, color, FS, 'center');
        return;
    }
    const wMain = textWidth(parts[0], FS);
    const wSmall = Math.max(textWidth(parts[1], FS_SMALL), textWidth(parts[2], FS_SMALL));
    const x0 = cx - (wMain + 1 + wSmall) / 2;
    pushText(parts[0], x0, cy, color, FS, 'left');
    pushText(parts[1], x0 + wMain + 1, cy - 7.5, color, FS_SMALL, 'left');
    pushText(parts[2], x0 + wMain + 1, cy + 10.5, color, FS_SMALL, 'left');
}
for (let i = 0; i < 5; i++) {
    const cx = colLeft[i] + SIZE / 2;
    const top = rowTop[i];
    const lowComposite = priorTitles[i].length > 1;
    addTitle(priorTitles[i], ORANGE, cx, top - (lowComposite ? 27 : 22.5));
    addTitle(postTitles[i], BLUE, cx, top - (lowComposite ? 67 : 63));
}

const chart = echarts.init(document.getElementById('chart'), null, { renderer: 'canvas' });
chart.setOption({
    animation: false,
    backgroundColor: '#fff',
    color: [BLUE, ORANGE],
    grid: grids,
    xAxis: xAxes,
    yAxis: yAxes,
    legend: {
        data: ['posterior', 'prior'], orient: 'vertical', left: 1853, top: 116,
        padding: [18, 14, 18, 16], itemGap: 17, itemWidth: 40, itemHeight: 4, icon: 'rect',
        borderColor: '#000', borderWidth: 2, selectedMode: false,
        textStyle: { fontSize: FS, color: '#000', fontFamily: FONT }
    },
    graphic: graphics,
    series: series
});
</script>
</body>
</html>
